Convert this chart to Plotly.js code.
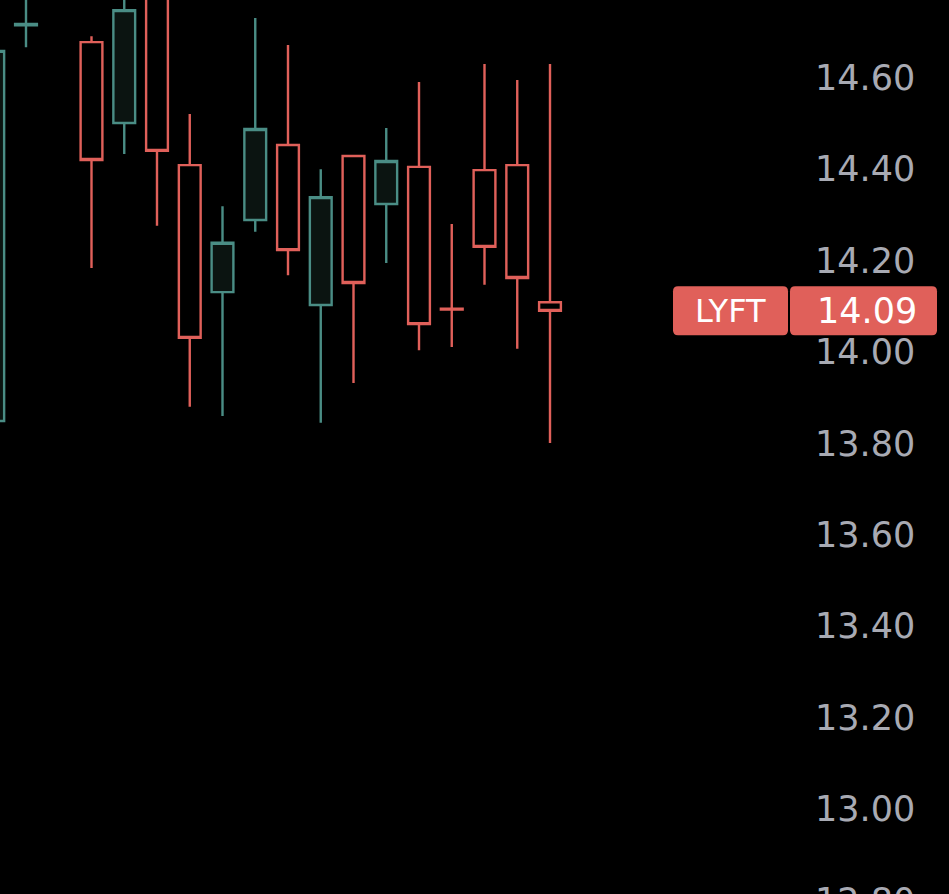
<!DOCTYPE html>
<html>
<head>
<meta charset="utf-8">
<script src="https://cdn.plot.ly/plotly-3.0.1.min.js"></script>
<style>
html,body{margin:0;padding:0;background:#000;overflow:hidden;}
#chart{width:949px;height:940px;}
</style>
</head>
<body>
<div id="chart"></div>
<script>
// Candle slots (index 2 has no visible candle)
var slots = [0, 1, 3, 4, 5, 6, 7, 8, 9, 10, 11, 12, 13, 14, 15, 16, 17];
var openVals  = [13.849, 14.715, 14.678, 14.501, 14.850, 14.409, 14.131, 14.289, 14.453, 14.103, 14.429, 14.324, 14.405, 14.095, 14.398, 14.409, 14.109];
var highVals  = [14.700, 14.800, 14.691, 14.800, 14.900, 14.521, 14.319, 14.731, 14.672, 14.400, 14.429, 14.490, 14.591, 14.280, 14.630, 14.595, 14.630];
var lowVals   = [13.820, 14.667, 14.184, 14.433, 14.276, 13.880, 13.860, 14.263, 14.168, 13.845, 13.932, 14.195, 14.004, 14.011, 14.147, 14.007, 13.801];
var closeVals = [14.659, 14.718, 14.420, 14.748, 14.440, 14.031, 14.239, 14.488, 14.223, 14.339, 14.151, 14.418, 14.061, 14.093, 14.230, 14.162, 14.090];

var symbol = "LYFT";
var lastPrice = 14.09;
var tickVals = [12.8, 13.0, 13.2, 13.4, 13.6, 13.8, 14.0, 14.2, 14.4, 14.6];

var RED = "#e0605a";
var GREEN = "#4a8d85";

// layout geometry
var W = 949, H = 940, plotRight = 810;
var slotPx = 32.75, slot1Px = 26;   // pixel of slot 1 centre
var pxPerUnit = 457, y14Px = 352;   // pixel of price 14.00

var xr0 = 1 - slot1Px / slotPx;
var xr1 = 1 + (plotRight - slot1Px) / slotPx;
var yTop = 14 + y14Px / pxPerUnit;
var yBot = 14 - (H - y14Px) / pxPerUnit;

var trace = {
  type: "candlestick",
  x: slots,
  open: openVals,
  high: highVals,
  low: lowVals,
  close: closeVals,
  increasing: {line: {color: GREEN, width: 2.4}, fillcolor: "#0b1411"},
  decreasing: {line: {color: RED, width: 2.4}, fillcolor: "#000000"},
  whiskerwidth: 0,
  hoverinfo: "skip",
  showlegend: false
};

function roundedRect(x0, x1, h, r) {
  return "M" + (x0 + r) + "," + (-h) +
    " L" + (x1 - r) + "," + (-h) +
    " Q" + x1 + "," + (-h) + " " + x1 + "," + (-h + r) +
    " L" + x1 + "," + (h - r) +
    " Q" + x1 + "," + h + " " + (x1 - r) + "," + h +
    " L" + (x0 + r) + "," + h +
    " Q" + x0 + "," + h + " " + x0 + "," + (h - r) +
    " L" + x0 + "," + (-h + r) +
    " Q" + x0 + "," + (-h) + " " + (x0 + r) + "," + (-h) + " Z";
}

var layout = {
  width: W, height: H,
  paper_bgcolor: "#000000",
  plot_bgcolor: "#000000",
  margin: {l: 0, r: W - plotRight, t: 0, b: 0, pad: 0},
  showlegend: false,
  dragmode: false,
  boxgap: 0.05,
  xaxis: {
    range: [xr0, xr1],
    visible: false,
    rangeslider: {visible: false},
    fixedrange: true
  },
  yaxis: {
    side: "right",
    range: [yBot, yTop],
    tickvals: tickVals,
    ticktext: tickVals.map(function(v){ return v.toFixed(2); }),
    showgrid: false, zeroline: false, showline: false,
    ticks: "",
    ticklabelstandoff: 4,
    tickfont: {family: "DejaVu Sans, sans-serif", size: 35, color: "#a8aab3"},
    fixedrange: true
  },
  shapes: [
    {type: "path", xref: "paper", yref: "y", xsizemode: "pixel", ysizemode: "pixel",
     xanchor: 1, yanchor: lastPrice, path: roundedRect(-137, -22, 24.5, 5),
     fillcolor: RED, line: {width: 0}, layer: "above"},
    {type: "path", xref: "paper", yref: "y", xsizemode: "pixel", ysizemode: "pixel",
     xanchor: 1, yanchor: lastPrice, path: roundedRect(-20, 127, 24.5, 5),
     fillcolor: RED, line: {width: 0}, layer: "above"}
  ],
  annotations: [
    {xref: "paper", yref: "y", x: 1, y: lastPrice, xshift: -80, text: symbol,
     showarrow: false, xanchor: "center", yanchor: "middle",
     font: {family: "DejaVu Sans, sans-serif", size: 32, color: "#ffffff"}},
    {xref: "paper", yref: "y", x: 1, y: lastPrice, xshift: 5, text: lastPrice.toFixed(2),
     showarrow: false, xanchor: "left", yanchor: "middle",
     font: {family: "DejaVu Sans, sans-serif", size: 35, color: "#ffffff"}}
  ]
};

Plotly.newPlot("chart", [trace], layout, {displayModeBar: false, staticPlot: true});
</script>
</body>
</html>
